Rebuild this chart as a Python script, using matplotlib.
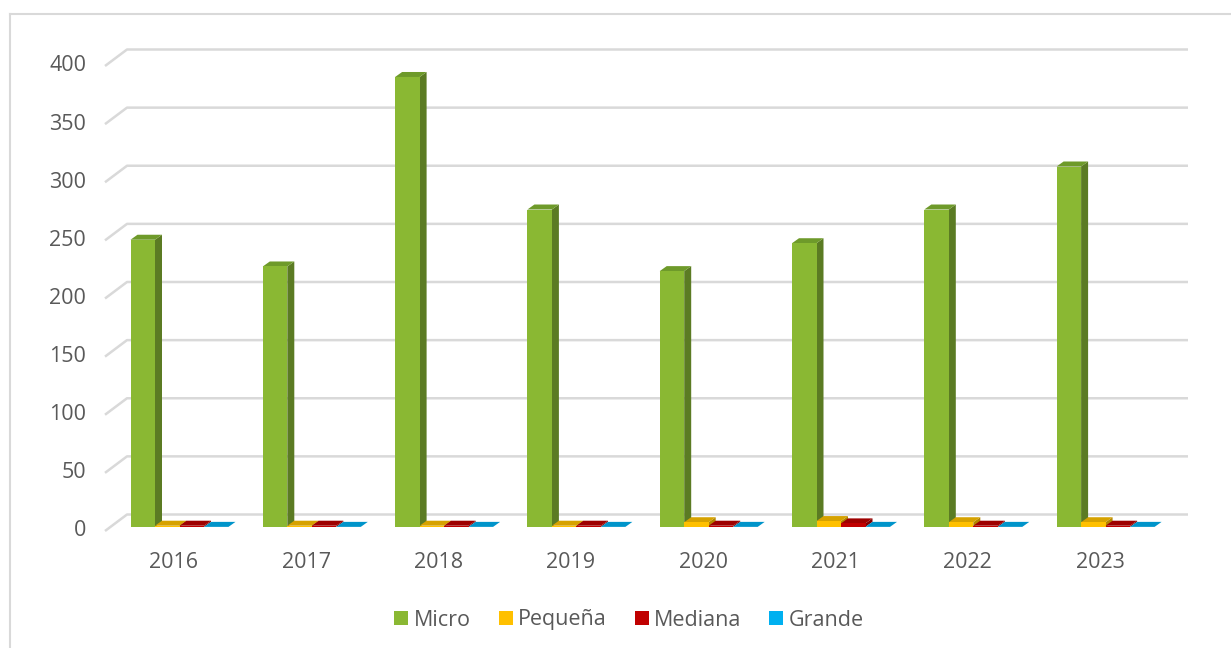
import matplotlib
matplotlib.use("Agg")
import matplotlib.pyplot as plt
from matplotlib.patches import Polygon, Patch
from matplotlib.lines import Line2D

plt.rcParams['font.family'] = ['Open Sans', 'DejaVu Sans']

# --- DATA ---
years = ['2016', '2017', '2018', '2019', '2020', '2021', '2022', '2023']
series_names = ['Micro', 'Pequeña', 'Mediana', 'Grande']
micro = [247, 224, 387, 273, 220, 244, 273, 310]
pequena = [1, 1, 1, 1, 4, 5, 4, 4]
mediana = [1, 1, 1, 1, 1, 3, 1, 1]
grande = [0, 0, 0, 0, 0, 0, 0, 0]
y_ticks = [0, 50, 100, 150, 200, 250, 300, 350, 400]

# front / side / top colours for each series
colors = {
    'Micro':   ('#8AB833', '#5B7B23', '#6E9A2A'),
    'Pequeña': ('#FFC000', '#B38600', '#D6A200'),
    'Mediana': ('#C00000', '#7E0000', '#9E0000'),
    'Grande':  ('#00B0F0', '#0079A6', '#0094CA'),
}
text_color = '#595959'
grid_color = '#D9D9D9'

# --- LAYOUT (pixel scale of the front plane) ---
W, H = 1231, 648
px_per_cat = 132.3
px_per_unit = 1.1625
cat0_px = 174
zero_px = 531


def cx(px):
    return (px - cat0_px) / px_per_cat


def vy(py):
    return (zero_px - py) / px_per_unit


DX, DY = 22 / px_per_cat, 16.5 / px_per_unit          # wall depth
bdx, bdy = 7 / px_per_cat, 5 / px_per_unit            # bar depth
ofx, ofy = 0.25 * DX, 0.25 * DY                       # bar front offset
bar_w = 24.5 / px_per_cat

fig = plt.figure(figsize=(W / 100, H / 100), dpi=100)
ax = fig.add_axes([0, 0, 1, 1])
ax.set_xlim(cx(0), cx(W))
ax.set_ylim(vy(H), vy(0))
ax.axis('off')

# chart border (left and top only visible)
fig.add_artist(Line2D([10 / W, 10 / W], [0, 1 - 14 / H], color=grid_color, lw=1.5))
fig.add_artist(Line2D([10 / W, 1], [1 - 14 / H, 1 - 14 / H], color=grid_color, lw=1.5))

# back wall gridlines with diagonal to the front
x_front = cx(105)
x_right = cx(1188)
for v in y_ticks:
    ax.plot([x_front, x_front + DX, x_right], [v, v + DY, v + DY],
            color=grid_color, lw=1.8, zorder=1, solid_capstyle='butt')
    ax.text(cx(86), v, str(v), ha='right', va='center', fontsize=15.5, color=text_color)

# bars (3D look)
all_vals = [micro, pequena, mediana, grande]
for i, year in enumerate(years):
    left0 = i - 2 * bar_w + ofx
    for k, (name, vals) in enumerate(zip(series_names, all_vals)):
        front, side, top = colors[name]
        x0 = left0 + k * bar_w
        x1 = x0 + bar_w
        y0 = ofy
        h = vals[i]
        y1 = y0 + h
        z = 3 + i * 4 + k
        ax.bar(x0, h, width=bar_w, bottom=y0, align='edge', color=front,
               edgecolor='none', zorder=z + 0.2)
        ax.add_patch(Polygon([(x1, y0), (x1 + bdx, y0 + bdy), (x1 + bdx, y1 + bdy), (x1, y1)],
                             closed=True, color=side, lw=0, zorder=z))
        ax.add_patch(Polygon([(x0, y1), (x1, y1), (x1 + bdx, y1 + bdy), (x0 + bdx, y1 + bdy)],
                             closed=True, color=top, lw=0, zorder=z + 0.1))
    ax.text(i, vy(563), year, ha='center', va='center', fontsize=15.5, color=text_color)

# legend
handles = [Patch(facecolor=colors[n][0], edgecolor='none', label=n) for n in series_names]
fig.legend(handles=handles, loc='center', bbox_to_anchor=(629 / W, 1 - 620 / H), ncol=4,
           frameon=False, fontsize=15.5, labelcolor=text_color, handlelength=0.65,
           handleheight=0.65, handletextpad=0.25, columnspacing=1.3)

fig.savefig('out.png', dpi=100, facecolor='white')
